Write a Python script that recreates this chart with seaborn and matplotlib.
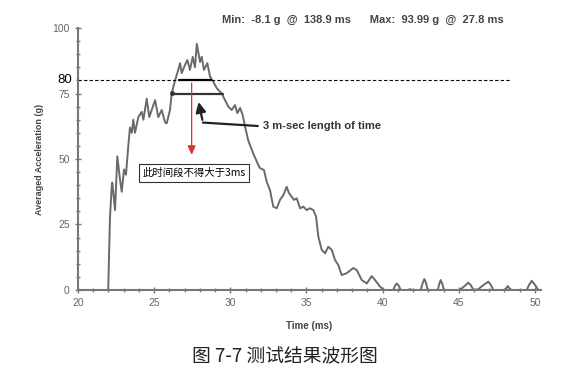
import matplotlib
matplotlib.use("Agg")
import matplotlib.pyplot as plt
import seaborn as sns
import pandas as pd
from matplotlib.ticker import MultipleLocator
from matplotlib.transforms import blended_transform_factory

# ---- data ----
time_ms = [21.98, 22.10, 22.21, 22.25, 22.43, 22.58, 22.76, 22.87, 23.02, 23.15,
           23.30, 23.41, 23.53, 23.63, 23.74, 23.96, 24.18, 24.29, 24.51, 24.68,
           24.84, 25.06, 25.27, 25.50, 25.71, 25.82, 26.04, 26.15, 26.37, 26.52,
           26.70, 26.81, 27.03, 27.18, 27.35, 27.53, 27.68, 27.80, 28.01, 28.12,
           28.27, 28.49, 28.67, 28.88, 29.11, 29.44, 29.65, 29.87, 30.09, 30.31,
           30.46, 30.64, 30.81, 30.97, 31.18, 31.51, 31.84, 31.95, 32.21, 32.39,
           32.61, 32.82, 33.05, 33.26, 33.48, 33.70, 33.85, 34.03, 34.18, 34.36,
           34.58, 34.79, 35.02, 35.23, 35.45, 35.63, 35.78, 36.00, 36.22, 36.43,
           36.66, 36.87, 37.09, 37.31, 37.64, 38.08, 38.30, 38.63, 38.96, 39.28,
           39.50, 39.83, 40.09, 40.70, 40.80, 40.93, 41.07, 41.19, 41.65, 41.80,
           41.95, 42.50, 42.62, 42.74, 42.86, 42.96, 43.62, 43.72, 43.81, 43.92,
           44.03, 45.00, 45.19, 45.40, 45.63, 45.80, 45.96, 46.28, 46.60, 46.94,
           47.10, 47.27, 48.04, 48.21, 48.35, 48.48, 49.46, 49.62, 49.79, 50.00,
           50.22, 50.40]
accel_g = [0.0, 28.0, 39.4, 41.0, 30.5, 51.0, 42.0, 37.5, 46.0, 44.0,
           55.0, 62.0, 60.0, 65.0, 60.0, 66.0, 68.0, 65.0, 73.0, 66.0,
           68.7, 72.5, 66.0, 68.7, 64.0, 63.6, 68.7, 75.0, 80.0, 82.8,
           86.6, 82.8, 86.0, 87.8, 84.0, 89.0, 85.0, 94.0, 87.0, 89.0,
           84.0, 86.6, 81.4, 79.5, 77.0, 75.0, 72.5, 70.0, 68.7, 70.6,
           67.5, 69.5, 66.8, 62.3, 57.0, 52.0, 47.7, 46.5, 45.8, 41.3,
           38.0, 31.8, 31.2, 34.4, 36.2, 39.4, 37.0, 35.6, 34.4, 35.0,
           31.2, 31.8, 30.5, 31.2, 30.5, 28.0, 20.3, 15.3, 14.0, 16.5,
           15.3, 11.5, 9.5, 5.7, 6.4, 8.4, 7.6, 3.8, 2.5, 5.3,
           3.8, 1.3, 0.0, 0.0, 1.5, 2.5, 1.5, 0.0, 0.0, 0.3,
           0.0, 0.0, 2.5, 4.2, 2.5, 0.0, 0.0, 2.3, 3.8, 2.3,
           0.0, 0.0, 0.6, 1.6, 2.8, 1.8, 0.0, 0.3, 1.8, 3.2,
           2.0, 0.0, 0.0, 1.5, 0.5, 0.0, 0.0, 2.0, 3.5, 2.0,
           0.0, 0.0]

y_ticks = [0, 25, 50, 75, 100]
x_ticks = [20, 25, 30, 35, 40, 45, 50]
threshold = 80
stats_text = "Min:  -8.1 g  @  138.9 ms      Max:  93.99 g  @  27.8 ms"
note_text = "3 m-sec length of time"
box_text = "此时间段不得大于3ms"
caption = "图 7-7 测试结果波形图"

df = pd.DataFrame({"Time (ms)": time_ms, "Accel": accel_g})

sns.set_theme(style="white")
plt.rcParams["font.family"] = ["Liberation Sans", "DejaVu Sans"]

fig = plt.figure(figsize=(5.88, 3.75), dpi=100)
ax = fig.add_axes([0.1327, 0.2267, 0.7874, 0.6986])

sns.lineplot(data=df, x="Time (ms)", y="Accel", ax=ax, color="#6a6a6a",
             linewidth=1.4, sort=False)

ax.set_xlim(20, 50.4)
ax.set_ylim(0, 100)
ax.set_xticks(x_ticks)
ax.set_yticks(y_ticks)
ax.xaxis.set_minor_locator(MultipleLocator(1))
ax.yaxis.set_minor_locator(MultipleLocator(5))
for s in ["top", "right"]:
    ax.spines[s].set_visible(False)
for s in ["left", "bottom"]:
    ax.spines[s].set_color("#777777")
    ax.spines[s].set_linewidth(1.5)
ax.tick_params(axis="both", which="both", bottom=True, left=True)
ax.tick_params(axis="both", which="major", direction="inout", length=4,
               width=1, color="#777777", labelsize=7.5, labelcolor="#666666", pad=4)
ax.tick_params(axis="both", which="minor", direction="inout", length=3,
               width=1, color="#777777")
ax.set_xlabel("Time (ms)", fontsize=7, fontweight="bold", color="#444444", labelpad=9)
ax.set_ylabel("Averaged Acceleration (g)", fontsize=6.5, fontweight="bold",
              color="#444444", labelpad=6)

# threshold line and extra "80" label
ax.axhline(threshold, xmin=0, xmax=(48.4 - 20) / 30.4, color="black",
           linestyle=(0, (3, 2)), linewidth=0.8)
tr = blended_transform_factory(ax.transAxes, ax.transData)
ax.text(-0.013, threshold, "80", transform=tr, ha="right", va="center",
        fontsize=9.5, color="black")

# horizontal markers
ax.plot([26.6, 28.7], [80, 80], color="black", linewidth=1.6)
ax.plot([26.15, 29.55], [75, 75], color="#333333", linewidth=1.6)
ax.plot([26.15], [75.3], marker="o", markersize=2.5, color="#333333")

# black bent arrow with note text
ax.plot([31.8, 28.2], [62.6, 63.9], color="#222222", linewidth=1.6)
ax.annotate("", xy=(27.88, 72.8), xytext=(28.2, 63.9),
            arrowprops=dict(arrowstyle="-|>,head_length=0.5,head_width=0.25",
                            color="#222222", lw=1.6))
ax.text(32.15, 62.6, note_text, fontsize=8, fontweight="bold", color="#333333",
        ha="left", va="center")

# red arrow
ax.annotate("", xy=(27.46, 50.5), xytext=(27.46, 80),
            arrowprops=dict(arrowstyle="-|>,head_length=0.45,head_width=0.2",
                            color="#e03030", lw=0.9))

# boxed Chinese note
ax.text(27.6, 44.6, box_text, fontsize=7.5, ha="center", va="center",
        family=["Noto Sans CJK SC", "DejaVu Sans"], color="black",
        bbox=dict(boxstyle="square,pad=0.35", facecolor="white",
                  edgecolor="#333333", linewidth=0.8))

# top stats text
fig.text(0.378, 0.947, stats_text, fontsize=8.0, fontweight="bold",
         color="#444444", ha="left", va="center")

# caption
fig.text(0.485, 0.048, caption, fontsize=13.5, ha="center", va="center",
         family=["Noto Sans CJK SC", "DejaVu Sans"], color="#222222")

fig.savefig("out.png", dpi=100)
